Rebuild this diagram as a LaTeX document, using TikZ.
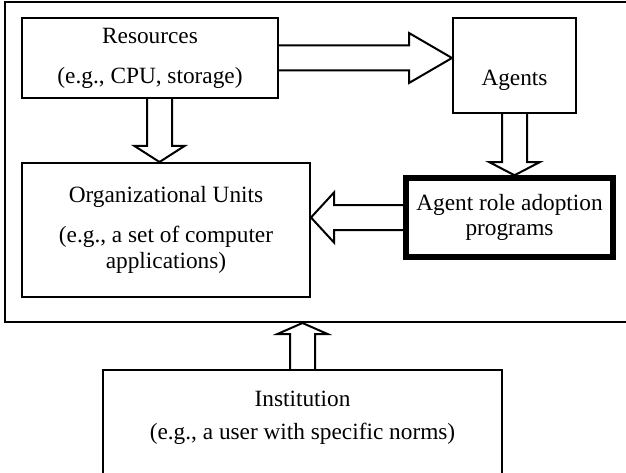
\documentclass[tikz,border=0pt]{standalone}
\usepackage{fontspec}
\setmainfont{Liberation Serif}
\usetikzlibrary{calc}

\tikzset{
  box/.style={draw, line width=2, align=center, inner sep=0,
    font=\fontsize{23.3}{25.5}\selectfont},
  boldbox/.style={box, line width=5.5},
  arrowline/.style={draw, line width=2, line join=miter},
  % hollow block arrow, #1 = head length
  fat/.style={to path={let \p1=(\tikztostart), \p2=(\tikztotarget),
      \n1={veclen((\x2)-(\x1),(\y2)-(\y1))},
      \n2={((\x2)-(\x1))/(\n1)}, \n3={((\y2)-(\y1))/(\n1)} in
      ({(\x1)-12.5*(\n3)},{(\y1)+12.5*(\n2)})
      -- ({(\x2)-#1*(\n2)-12.5*(\n3)},{(\y2)-#1*(\n3)+12.5*(\n2)})
      -- ({(\x2)-#1*(\n2)-25*(\n3)},{(\y2)-#1*(\n3)+25*(\n2)})
      -- (\p2)
      -- ({(\x2)-#1*(\n2)+25*(\n3)},{(\y2)-#1*(\n3)-25*(\n2)})
      -- ({(\x2)-#1*(\n2)+12.5*(\n3)},{(\y2)-#1*(\n3)-12.5*(\n2)})
      -- ({(\x1)+12.5*(\n3)},{(\y1)-12.5*(\n2)})}}
}

\begin{document}
\begin{tikzpicture}[x=1pt,y=-1pt]
\useasboundingbox (0,0) rectangle (626,473);
\clip (0,0) rectangle (626,473);

%Shape: Rectangle (outer frame, runs past the right edge)
\node [box, minimum width=655, minimum height=320] (sys) at (332.5,162) {};

%Shape: Rectangle
\node [box, minimum width=256, minimum height=80] (res) at (150,58)
  {Resources\\[14.5pt](e.g., CPU, storage)};
%Shape: Rectangle
\node [box, minimum width=123, minimum height=95, text height=46pt, text depth=5pt] (agents) at (514.5,65.5)
  {Agents};
%Shape: Rectangle
\node [box, minimum width=288, minimum height=134] (org) at (166,230)
  {Organizational Units\\[14.5pt](e.g., a set of computer\\applications)};
%Shape: Rectangle
\node [boldbox, minimum width=207, minimum height=79] (arap) at (509.5,217.5)
  {Agent role adoption\\programs};
%Shape: Rectangle (open at the bottom edge)
\node [box, minimum width=399, minimum height=110, text depth=20pt] (inst) at (302.5,425)
  {Institution\\[7.5pt](e.g., a user with specific norms)};

%Block Arrows
\coordinate (rs) at ([xshift=9.5]res.south);
\draw [arrowline] (res.east) to[fat=43] (agents.west |- res.east);
\draw [arrowline] (rs) to[fat=16] (rs |- org.north);
\draw [arrowline] (agents.south) to[fat=13] (agents.south |- arap.north);
\draw [arrowline] (arap.west) to[fat=23] (org.east |- arap.west);
\draw [arrowline] (inst.north) to[fat=11] (inst.north |- sys.south);
\end{tikzpicture}
\end{document}
